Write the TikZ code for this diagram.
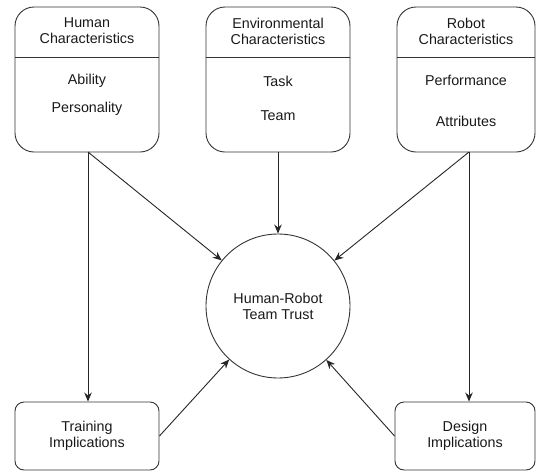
\documentclass[tikz,border=0pt]{standalone}
\usepackage{fontspec}
\setmainfont{Liberation Sans}
\usetikzlibrary{arrows.meta}
\begin{document}
\begin{tikzpicture}[x=1pt,y=-1pt,
  every node/.style={font=\fontsize{14.3}{16}\selectfont, text=black!90},
  topbox/.style={draw=black!80, line width=0.9pt, rounded corners=19pt, minimum width=144pt, minimum height=145pt, inner sep=0pt},
  botbox/.style={draw=black!80, line width=0.9pt, rounded corners=9pt, minimum width=144pt, minimum height=68pt, inner sep=0pt},
  lbl/.style={align=center, inner sep=0pt},
  conn/.style={draw=black!85, line width=0.9pt, -{Stealth[length=9pt,width=7.5pt]}}
]
\useasboundingbox (0,0) rectangle (536,472);
% top boxes
\node[topbox] (hum) at (87,79.5) {};
\node[topbox] (env) at (278,79.5) {};
\node[topbox, minimum width=138pt] (rob) at (466,79.5) {};
\draw[draw=black!80, line width=0.9pt] (hum.west |- 0,57) -- (hum.east |- 0,57);
\draw[draw=black!80, line width=0.9pt] (env.west |- 0,57) -- (env.east |- 0,57);
\draw[draw=black!80, line width=0.9pt] (rob.west |- 0,57) -- (rob.east |- 0,57);
\node[lbl] (humt) at (87,31) {Human\\Characteristics};
\node[lbl] (ht1) at (87,81) {Ability};
\node[lbl] (ht2) at (87,109) {Personality};
\node[lbl] (envt) at (278,31) {Environmental\\Characteristics};
\node[lbl] (et1) at (278,81) {Task};
\node[lbl] (et2) at (278,116) {Team};
\node[lbl] (robt) at (466,31) {Robot\\Characteristics};
\node[lbl] (rt1) at (466,80) {Performance};
\node[lbl] (rt2) at (466,121) {Attributes};
% circle
\node[circle, draw=black!80, line width=0.9pt, minimum size=144pt, inner sep=0pt, align=center] (circ) at (278,306) {Human-Robot\\Team Trust};
% bottom boxes
\node[botbox, align=center] (train) at (87,436) {Training\\Implications};
\node[botbox, minimum width=140pt, align=center] (design) at (465,436) {Design\\Implications};
% anchors on top boxes
\coordinate (hs) at (88,152);
\coordinate (rs) at (469,152);
% connectors
\draw[conn] (hs) -- (circ);
\draw[conn] (env.south) -- (circ.north);
\draw[conn] (rs) -- (circ);
\draw[conn] (hs) -- (hs |- train.north);
\draw[conn] (rs) -- (rs |- design.north);
\draw[conn] (train.east) -- (circ);
\draw[conn] (design.west) -- (circ);
\end{tikzpicture}
\end{document}
